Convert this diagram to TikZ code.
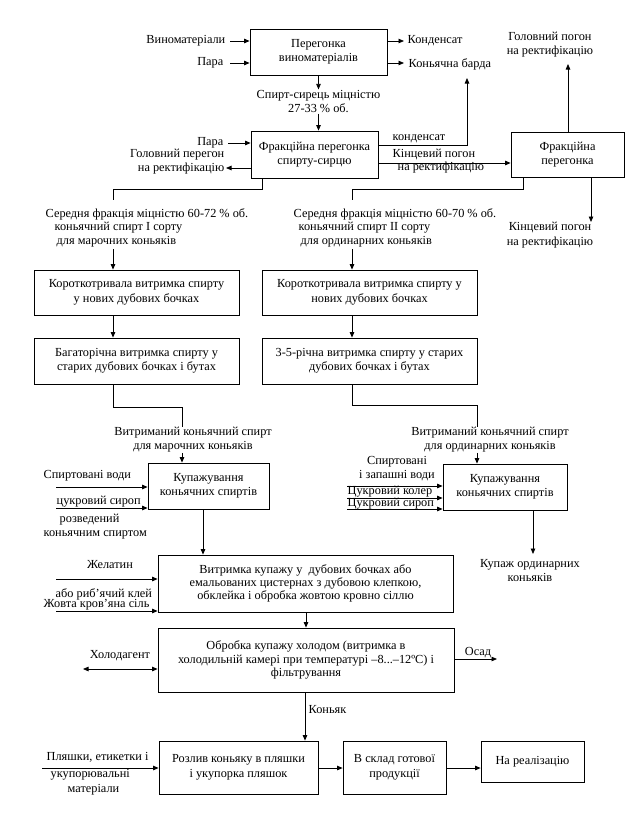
\documentclass[tikz,border=0pt]{standalone}
\usepackage{fontspec}
\setmainfont{Liberation Serif}
\usetikzlibrary{arrows.meta}
\begin{document}
\begin{tikzpicture}[x=1pt,y=-1pt,
  font=\fontsize{12.3}{14.5}\selectfont,
  box/.style={draw, line width=0.8pt, align=center, inner sep=0pt},
  lbl/.style={inner sep=0.5pt, align=center},
  arr/.style={line width=0.8pt, -{Triangle[length=5.5pt,width=4.5pt]}},
  darr/.style={line width=0.8pt, {Triangle[length=5.5pt,width=4.5pt]}-{Triangle[length=5.5pt,width=4.5pt]}},
  ln/.style={line width=0.8pt}]
\useasboundingbox (0,0) rectangle (642,816);
\fill[white] (0,0) rectangle (642,816);

% ---------- top box
\node[box,minimum width=137pt,minimum height=46pt] (b1) at (318.5,52) {Перегонка\\виноматеріалів};
\node[lbl,anchor=east] (tvin) at (226,41) {Виноматеріали};
\node[lbl,anchor=east] (tpar1) at (224,63) {Пара};
\node[lbl,anchor=west] (tkond) at (407,41) {Конденсат};
\node[lbl,anchor=west] (tbarda) at (408,64) {Коньячна барда};
\coordinate (cvin) at (230,41);
\coordinate (cpar1) at (230,63);
\coordinate (ckond) at (404,41);
\coordinate (cbarda) at (404,63);
\draw[arr] (cvin) -- (cvin -| b1.west);
\draw[arr] (cpar1) -- (cpar1 -| b1.west);
\draw[arr] (ckond -| b1.east) -- (ckond);
\draw[arr] (cbarda -| b1.east) -- (cbarda);

\node[lbl] (tss) at (318.5,101.5) {Спирт-сирець міцністю\\27-33 \% об.};
\draw[arr] (b1.south) -- (tss.north);

% ---------- second box
\node[box,minimum width=127pt,minimum height=47pt] (b2) at (314.5,154.5) {Фракційна перегонка\\спирту-сирцю};
\draw[arr] (tss.south) -- (tss.south |- b2.north);

\node[lbl,anchor=east] (tpar2) at (224,143) {Пара};
\coordinate (cpar2) at (228,143);
\draw[arr] (cpar2) -- (cpar2 -| b2.west);
\node[lbl,anchor=east,align=right] (tgp) at (225,161.5) {Головний перегон\\на ректифікацію};
\coordinate (cgp) at (226,168);
\draw[arr] (cgp -| b2.west) -- (cgp);

\node[lbl,anchor=west] (tkond2) at (392,139) {конденсат};
\coordinate (ck1) at (467,145);
\coordinate (ck2) at (467,78);
\draw[arr] (ck1 -| b2.east) -- (ck1) -- (ck2);
\node[lbl,anchor=west] (tkp1) at (392,154) {Кінцевий погон};
\node[lbl,anchor=west] (tkp2) at (397,168) {на ректифікацію};

% ---------- third box
\node[box,minimum width=113pt,minimum height=45pt] (b3) at (567.5,154.5) {Фракційна\\перегонка};
\coordinate (c3) at (378,163);
\draw[arr] (c3) -- (c3 -| b3.west);
\node[lbl] (tgp2) at (550,44.5) {Головний погон\\на ректифікацію};
\coordinate (c4) at (568,64);
\draw[arr] (c4 |- b3.north) -- (c4);
\coordinate (c5) at (591,222);
\draw[arr] (c5 |- b3.south) -- (c5);
\node[lbl] (tkp3) at (550,235) {Кінцевий погон\\на ректифікацію};

% ---------- branching connectors
\coordinate (c6) at (523,189);
\coordinate (c7) at (352,200);
\draw[ln] (c6 |- b3.south) -- (c6) -- (c6 -| c7) -- (c7);
\coordinate (c8) at (262,189);
\coordinate (c9) at (113,200);
\draw[ln] (c8 |- b2.south) -- (c8) -- (c8 -| c9) -- (c9);

\node[lbl,anchor=west] (sl1) at (45,214) {Середня фракція міцністю 60-72 \% об.};
\node[lbl,anchor=west] (sl2) at (54,228) {коньячний спирт I сорту};
\node[lbl,anchor=west] (sl3) at (56,242) {для марочних коньяків};
\node[lbl,anchor=west] (sr1) at (293,214) {Середня фракція міцністю 60-70 \% об.};
\node[lbl,anchor=west] (sr2) at (298,228) {коньячний спирт II сорту};
\node[lbl,anchor=west] (sr3) at (300,242) {для ординарних коньяків};

% ---------- ageing boxes
\node[box,minimum width=205pt,minimum height=45pt] (l1) at (136.5,292.5) {Короткотривала витримка спирту\\у нових дубових бочках};
\node[box,minimum width=205pt,minimum height=46pt] (l2) at (136.5,361) {Багаторічна витримка спирту у\\старих дубових бочках і бутах};
\node[box,minimum width=215pt,minimum height=45pt] (r1) at (369.5,292.5) {Короткотривала витримка спирту у\\нових дубових бочках};
\node[box,minimum width=215pt,minimum height=46pt] (r2) at (369.5,361) {3-5-річна витримка спирту у старих\\дубових бочках і бутах};

\coordinate (c10) at (113,249);
\draw[arr] (c10) -- (c10 |- l1.north);
\draw[arr] (c10 |- l1.south) -- (c10 |- l2.north);
\coordinate (c11) at (352,249);
\draw[arr] (c11) -- (c11 |- r1.north);
\draw[arr] (c11 |- r1.south) -- (c11 |- r2.north);

% ---------- left blending
\coordinate (c12) at (182,407);
\coordinate (c12b) at (182,427);
\draw[ln] (c10 |- l2.south) -- (c10 |- c12) -- (c12) -- (c12b);
\node[lbl] (vl) at (193,439.5) {Витриманий коньячний спирт\\для марочних коньяків};
\node[box,minimum width=121pt,minimum height=46pt] (lk) at (208.5,486) {Купажування\\коньячних спиртів};
\draw[arr] (c12 |- vl.south) -- (c12 |- lk.north);

\node[lbl,anchor=west] (sv) at (43,476) {Спиртовані води};
\coordinate (c14) at (56,487);
\draw[arr] (c14) -- (c14 -| lk.west);
\node[lbl,anchor=west] (cs) at (56,502) {цукровий сироп};
\coordinate (c15) at (56,508);
\draw[arr] (c15) -- (c15 -| lk.west);
\node[lbl,anchor=west] (rz1) at (59,520) {розведений};
\node[lbl,anchor=west] (rz2) at (43,535) {коньячним спиртом};

% ---------- right blending
\coordinate (c25) at (477,405);
\coordinate (c25b) at (477,427);
\draw[ln] (c11 |- r2.south) -- (c11 |- c25) -- (c25) -- (c25b);
\node[lbl] (vr) at (490,439.5) {Витриманий коньячний спирт\\для ординарних коньяків};
\node[box,minimum width=124pt,minimum height=46pt] (rk2) at (505,487) {Купажування\\коньячних спиртів};
\draw[arr] (c25 |- vr.south) -- (c25 |- rk2.north);

\node[lbl] (spz) at (397,468.5) {Спиртовані\\і запашні води};
\coordinate (c26) at (347,486);
\coordinate (c26b) at (347,498);
\coordinate (c26c) at (347,509);
\draw[arr] (c26) -- (c26 -| rk2.west);
\draw[arr] (c26b) -- (c26b -| rk2.west);
\draw[arr] (c26c) -- (c26c -| rk2.west);
\node[lbl,anchor=west] (ckl) at (347,491.5) {Цукровий колер};
\node[lbl,anchor=west] (csr) at (347,503.5) {Цукровий сироп};
\coordinate (c27) at (533,554);
\draw[arr] (c27 |- rk2.south) -- (c27);
\node[lbl] (kup) at (530,570.5) {Купаж ординарних\\коньяків};

% ---------- ageing of blend
\node[box,minimum width=295pt,minimum height=57pt,font=\fontsize{12.3}{13.3}\selectfont] (vb) at (305.5,583.5) {Витримка купажу у\ \ дубових бочках або\\емальованих цистернах з дубовою клепкою,\\обклейка і обробка жовтою кровно сіллю};
\coordinate (c16) at (203,509);
\draw[arr] (c16 |- lk.south) -- (c16 |- vb.north);

\node[lbl] (zh) at (110,565) {Желатин};
\coordinate (c17) at (56,579);
\draw[arr] (c17) -- (c17 -| vb.west);
\node[lbl,anchor=west] (rb) at (55,594) {або риб’ячий клей};
\node[lbl,anchor=west] (zk) at (43,605) {Жовта кров’яна сіль};
\coordinate (c18) at (56,611);
\draw[arr] (c18) -- (c18 -| vb.west);

% ---------- cold treatment
\node[box,minimum width=296pt,minimum height=64pt,font=\fontsize{12.3}{13.5}\selectfont] (ob) at (306,660) {Обробка купажу холодом (витримка в\\холодильній камері при температурі –8...–12ºС) і\\фільтрування};
\coordinate (c19) at (306,612);
\draw[arr] (c19 |- vb.south) -- (c19 |- ob.north);

\node[lbl] (hol) at (120,656) {Холодагент};
\coordinate (c20) at (83,669);
\draw[darr] (c20) -- (c20 -| ob.west);
\node[lbl] (osad) at (478,653) {Осад};
\coordinate (c21) at (497,659);
\draw[arr] (c21 -| ob.east) -- (c21);

% ---------- bottling
\node[box,minimum width=159pt,minimum height=53pt] (p1) at (238.5,767.5) {Розлив коньяку в пляшки\\і укупорка пляшок};
\node[box,minimum width=103pt,minimum height=53pt] (p2) at (394.5,767.5) {В склад готової\\продукції};
\node[box,minimum width=103pt,minimum height=41pt] (p3) at (532.5,761.5) {На реалізацію};
\node[lbl,anchor=west] (kon) at (308,710) {Коньяк};
\coordinate (c22) at (305,692);
\draw[arr] (c22 |- ob.south) -- (c22 |- p1.north);
\coordinate (c23) at (0,768);
\draw[arr] (c23 -| p1.east) -- (c23 -| p2.west);
\draw[arr] (c23 -| p2.east) -- (c23 -| p3.west);

\node[lbl,anchor=west] (pl1) at (46,757) {Пляшки, етикетки і};
\coordinate (c24) at (42,768);
\draw[arr] (c24) -- (c24 -| p1.west);
\node[lbl,anchor=west] (pl2) at (50,775) {укупорювальні};
\node[lbl,anchor=west] (pl3) at (67,790) {матеріали};
\end{tikzpicture}
\end{document}
